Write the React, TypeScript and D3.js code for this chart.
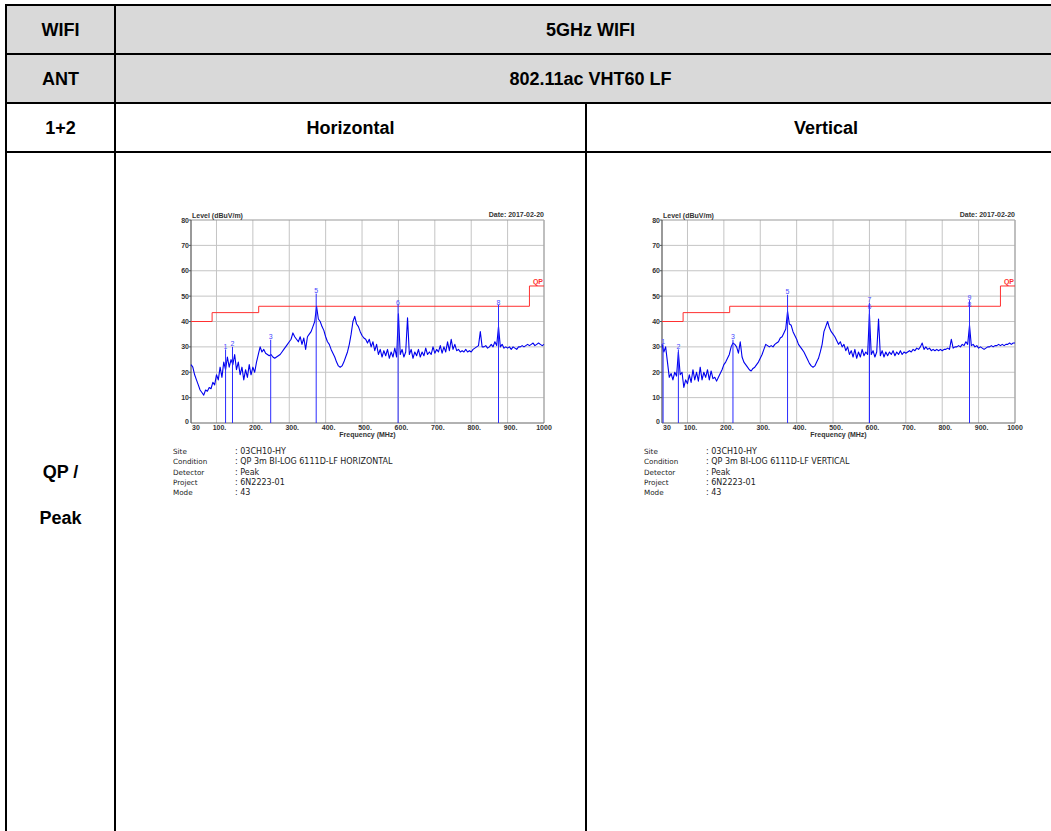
import React from "react";
import * as d3 from "d3";

// ---- Data ----
const FREQ_START = 30;
const FREQ_STEP = 5;

const horizontalLevels = [
  23, 22, 19, 17, 15, 13, 12, 11, 13, 12.5, 14, 13.5, 16, 15, 19, 17, 22, 18, 24, 21,
  26, 22, 25, 23, 27, 21, 24, 19, 22, 17, 21, 18, 23, 19, 22, 20, 24, 27, 30, 28,
  29, 27.5, 27, 26.5, 27, 26, 25.5, 26, 26.5, 27, 28, 29, 30, 31, 32, 33, 35.5, 34, 33, 32,
  34, 31, 33.5, 29, 34, 35, 36, 38, 40, 46, 41, 40, 38, 36.5, 34, 32, 31, 29, 27.5, 26,
  24, 22.5, 22, 22.5, 24, 26, 28, 31, 35, 40, 42, 39, 38, 36, 34.5, 33.5, 33, 31.5, 33, 30,
  32, 28.5, 31, 27, 29, 26, 28.5, 26.5, 29, 25.5, 28, 26, 29.5, 26, 43, 27, 29, 26, 28, 41.5,
  27, 29, 25.5, 28, 26.5, 29, 26, 28, 26.5, 29.5, 27, 28, 27, 30, 27.5, 29, 28, 30.5, 27.5, 30,
  28, 32, 28.5, 33, 29, 31, 28.5, 29, 28, 28.5, 28, 29, 28, 28.5, 28, 29, 29.5, 30, 30.5, 36,
  30, 30, 30.5, 29.5, 30, 31, 30, 32, 30.5, 38, 30, 31, 29.5, 30, 29.5, 30, 29, 30, 29.5, 29,
  30, 30, 30.5, 30, 30.5, 31, 30.5, 31, 31.5, 30.5, 31, 31.5, 31, 30.5, 31,
];

const verticalLevels = [
  31, 28, 30, 24, 18, 19.5, 17, 20, 18.5, 28, 19, 20, 14, 17, 15.5, 19, 16, 21, 17, 20,
  16.5, 22, 17, 20, 18, 21, 17, 20.5, 17.5, 18, 16.5, 18, 19.5, 21, 23, 24, 25.5, 27, 30, 31.5,
  31, 30, 27.5, 32, 26, 24, 23, 22, 21, 20.5, 21.5, 22, 23, 24, 25.5, 27, 29, 31, 30.5, 30,
  30.5, 30, 31, 31.5, 32, 33.5, 34, 35.5, 37, 44, 39, 38.5, 36, 34.5, 33, 31, 30, 29, 28, 26.5,
  25, 23.5, 22.5, 22, 22.5, 24, 25.5, 28, 31, 36, 38, 40, 37.5, 36, 35, 34, 32.5, 31, 32, 30,
  31, 28.5, 30, 27, 28.5, 26, 29, 25.5, 28, 26, 29, 26.5, 28, 27, 43, 27, 28.5, 26, 28, 41,
  26.5, 28.5, 26, 28, 26.5, 28, 27, 28.5, 26.5, 28, 27, 28.5, 27, 28, 27.5, 28, 28.5, 28, 29, 28.5,
  29.5, 29, 30, 31.5, 29, 30, 29, 29.5, 28.5, 29, 28.5, 29, 28.5, 29, 28.5, 29, 29, 29.5, 29, 33,
  29.5, 30, 30, 30.5, 30, 31, 30.5, 32, 31, 38.5, 30.5, 31, 30, 30.5, 29.5, 30, 29.5, 29, 29.5, 30,
  30, 30.5, 30, 30.5, 30.5, 31, 30.5, 31, 30.5, 31, 31, 31.5, 31, 31.5, 31.5,
];

const horizontalMarkers = [
  { f: 125, lv: 29, id: "1" },
  { f: 144, lv: 30, id: "2" },
  { f: 249, lv: 32.8, id: "3" },
  { f: 374, lv: 51, id: "5" },
  { f: 599, lv: 46.5, id: "6" },
  { f: 875, lv: 46.5, id: "8" },
];

const verticalMarkers = [
  { f: 33, lv: 31, id: "1" },
  { f: 75, lv: 29, id: "2" },
  { f: 225, lv: 32.8, id: "3" },
  { f: 375, lv: 50.5, id: "5" },
  { f: 600, lv: 44.6, id: "6" },
  { f: 600, lv: 47.4, id: "7" },
  { f: 875, lv: 45.6, id: "8" },
  { f: 875, lv: 48.4, id: "9" },
];

const limitFreqs = [30, 88, 216, 960, 1000];
const limitLevels = [40, 43.5, 46, 54, 54];

const yTicks = [10, 20, 30, 40, 50, 60, 70, 80];
const xTicks = [100, 200, 300, 400, 500, 600, 700, 800, 900];

const infoLabels = ["Site", "Condition", "Detector", "Project", "Mode"];
const infoH = [": 03CH10-HY", ": QP 3m BI-LOG 6111D-LF HORIZONTAL", ": Peak", ": 6N2223-01", ": 43"];
const infoV = [": 03CH10-HY", ": QP 3m BI-LOG 6111D-LF VERTICAL", ": Peak", ": 6N2223-01", ": 43"];

const FONT = "Liberation Sans, Arial, sans-serif";
const INFO_FONT = "DejaVu Sans, sans-serif";

type Marker = { f: number; lv: number; id: string };

function Chart({ left, levels, markers, info }: { left: number; levels: number[]; markers: Marker[]; info: string[] }) {
  const top = 220;
  const bottom = 423;
  const width = 353;
  const x = d3.scaleLinear().domain([30, 1000]).range([left, left + width]);
  const y = d3.scaleLinear().domain([0, 80]).range([bottom, top]);
  const pts: [number, number][] = levels.map((v, i) => [FREQ_START + i * FREQ_STEP, v]);
  const line = d3.line<[number, number]>().x((d) => x(d[0])).y((d) => y(d[1]));
  const limPts: [number, number][] = limitFreqs.map((f, i) => [f, limitLevels[i]]);
  const limLine = d3.line<[number, number]>().x((d) => x(d[0])).y((d) => y(d[1])).curve(d3.curveStepAfter);
  const tickFont = { fontFamily: FONT, fontSize: 7, fontWeight: "bold" as const, fill: "#333" };
  return (
    <g>
      {/* grid */}
      {yTicks.slice(0, -1).map((t) => (
        <line key={"gy" + t} x1={x(30)} x2={x(1000)} y1={y(t)} y2={y(t)} stroke="#c4c4c4" strokeWidth={1} />
      ))}
      {xTicks.map((t) => (
        <line key={"gx" + t} x1={x(t)} x2={x(t)} y1={top} y2={bottom} stroke="#c4c4c4" strokeWidth={1} />
      ))}
      {/* frame */}
      <line x1={x(30)} x2={x(1000)} y1={top} y2={top} stroke="#999" strokeWidth={1} />
      <line x1={x(1000)} x2={x(1000)} y1={top} y2={bottom} stroke="#aaa" strokeWidth={1.5} />
      <line x1={x(30)} x2={x(1000)} y1={bottom} y2={bottom} stroke="#666" strokeWidth={1.2} />
      <line x1={x(30)} x2={x(30)} y1={top} y2={bottom} stroke="#555" strokeWidth={1.2} />
      {/* y tick labels */}
      {yTicks.map((t) => (
        <g key={"yl" + t}>
          <line x1={x(30) - 2} x2={x(30)} y1={y(t)} y2={y(t)} stroke="#555" />
          <text x={x(30) - 2} y={y(t) + 2.5} textAnchor="end" {...tickFont}>{t}</text>
        </g>
      ))}
      <text x={x(30) - 2} y={y(0) + 1} textAnchor="end" {...tickFont}>0</text>
      <text x={x(30) + 1} y={bottom + 7} {...tickFont}>30</text>
      {xTicks.map((t) => (
        <text key={"xl" + t} x={x(t) + 3} y={bottom + 7} textAnchor="middle" {...tickFont}>{t + "."}</text>
      ))}
      <text x={x(1000)} y={bottom + 7} textAnchor="middle" {...tickFont}>1000</text>
      <text x={x(515)} y={bottom + 14} textAnchor="middle" {...tickFont}>Frequency (MHz)</text>
      <text x={x(30) + 1} y={top - 2} {...tickFont}>Level (dBuV/m)</text>
      <text x={x(1000)} y={top - 3} textAnchor="end" {...tickFont}>Date: 2017-02-20</text>
      {/* limit */}
      <path d={limLine(limPts) || ""} fill="none" stroke="#ff3030" strokeWidth={1} />
      <text x={x(1000) - 1} y={y(54) - 2} textAnchor="end" fontFamily={FONT} fontSize={7} fontWeight="bold" fill="#ff3030">QP</text>
      {/* trace */}
      <path d={line(pts) || ""} fill="none" stroke="#0000ee" strokeWidth={1.1} strokeLinejoin="round" />
      {/* markers */}
      {markers.map((m, i) => (
        <line key={"ml" + i} x1={x(m.f)} x2={x(m.f)} y1={bottom} y2={y(m.lv)} stroke="#2a2aff" strokeWidth={1} />
      ))}
      {markers.map((m, i) => (
        <text key={"mt" + i} x={x(m.f)} y={y(m.lv) - 0.5} textAnchor="middle" fontFamily={FONT} fontSize={7} fill="#4848ff">{m.id}</text>
      ))}
      {/* info */}
      {infoLabels.map((lab, i) => (
        <g key={"inf" + i}>
          <text x={left - 18} y={454 + i * 10.3} fontFamily={INFO_FONT} fontSize={7.2} fill="#222">{lab}</text>
          <text x={left + 44} y={454 + i * 10.3} fontFamily={INFO_FONT} fontSize={8} fill="#222">{info[i]}</text>
        </g>
      ))}
    </g>
  );
}

export default function App() {
  const L = 6, C1 = 115, C2 = 586, R = 1066;
  const rows = [5, 54, 103, 152];
  const B = 840;
  const cellFont = { fontFamily: FONT, fontSize: 18, fontWeight: "bold" as const, fill: "#000" };
  return (
    <svg width={1051} height={831} style={{ position: "absolute", left: 0, top: 0, background: "#fff" }}>
      <rect x={L} y={rows[0]} width={R - L} height={rows[2] - rows[0]} fill="#d9d9d9" />
      {rows.map((r) => (
        <line key={"r" + r} x1={L - 1} x2={R} y1={r} y2={r} stroke="#000" strokeWidth={2} />
      ))}
      <line x1={L} x2={L} y1={rows[0]} y2={B} stroke="#000" strokeWidth={2} />
      <line x1={C1} x2={C1} y1={rows[0]} y2={B} stroke="#000" strokeWidth={2} />
      <line x1={C2} x2={C2} y1={rows[2]} y2={B} stroke="#000" strokeWidth={2} />
      <text x={(L + C1) / 2} y={36} textAnchor="middle" {...cellFont}>WIFI</text>
      <text x={(C1 + R) / 2} y={36} textAnchor="middle" {...cellFont}>5GHz WIFI</text>
      <text x={(L + C1) / 2} y={85} textAnchor="middle" {...cellFont}>ANT</text>
      <text x={(C1 + R) / 2} y={85} textAnchor="middle" {...cellFont}>802.11ac VHT60 LF</text>
      <text x={(L + C1) / 2} y={134} textAnchor="middle" {...cellFont}>1+2</text>
      <text x={(C1 + C2) / 2} y={134} textAnchor="middle" {...cellFont}>Horizontal</text>
      <text x={(C2 + R) / 2} y={134} textAnchor="middle" {...cellFont}>Vertical</text>
      <text x={(L + C1) / 2} y={478} textAnchor="middle" {...cellFont}>QP /</text>
      <text x={(L + C1) / 2} y={524} textAnchor="middle" {...cellFont}>Peak</text>
      <Chart left={191} levels={horizontalLevels} markers={horizontalMarkers} info={infoH} />
      <Chart left={662} levels={verticalLevels} markers={verticalMarkers} info={infoV} />
    </svg>
  );
}
